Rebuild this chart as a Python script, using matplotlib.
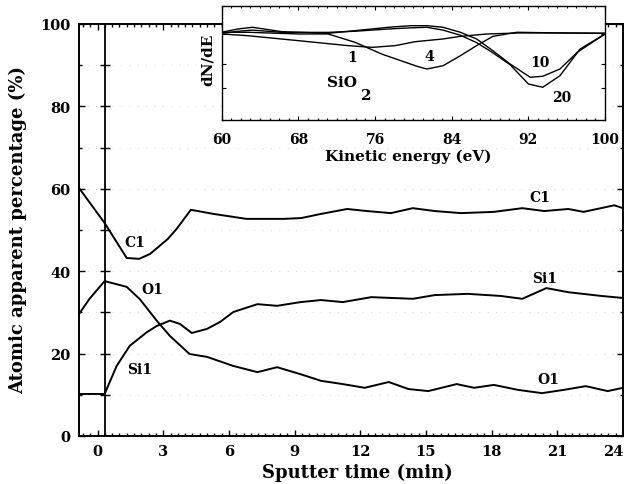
import numpy as np
import matplotlib
matplotlib.use("Agg")
import matplotlib.pyplot as plt
from matplotlib.ticker import MultipleLocator

# ---- main plot data: sputter time (min) vs atomic apparent percentage (%) ----
c1_t = [-0.85, 0.32, 1.33, 1.9, 2.4, 3.2, 3.6, 4.26, 5.3, 6.8, 8.5, 9.3, 10.2, 11.4,
        12.3, 13.4, 14.4, 15.4, 16.6, 18.1, 19.4, 20.4, 21.5, 22.2, 23.6, 24.0]
c1_v = [60.2, 51.7, 43.2, 43.0, 44.2, 47.8, 50.2, 54.9, 53.9, 52.7, 52.7, 52.9, 53.9, 55.1,
        54.6, 54.1, 55.3, 54.6, 54.1, 54.4, 55.3, 54.6, 55.1, 54.4, 56.0, 55.3]

o1_t = [-0.85, -0.37, 0.32, 1.33, 1.93, 2.7, 3.3, 4.2, 5.0, 6.2, 7.3, 8.2, 9.27, 10.2,
        11.2, 12.2, 13.3, 14.2, 15.1, 16.4, 17.2, 18.1, 19.2, 20.3, 21.3, 22.3, 23.3, 24.0]
o1_v = [29.6, 33.3, 37.6, 36.2, 33.2, 28.0, 24.3, 19.9, 19.2, 17.0, 15.5, 16.7, 15.0, 13.4,
        12.6, 11.7, 13.1, 11.4, 10.9, 12.6, 11.7, 12.4, 11.2, 10.4, 11.2, 12.1, 10.9, 11.7]

si1_t = [-0.85, 0.32, 0.87, 1.47, 2.25, 2.7, 3.3, 3.76, 4.3, 5.0, 5.6, 6.2, 7.3, 8.2, 9.27,
         10.2, 11.2, 12.5, 14.4, 15.4, 16.9, 18.4, 19.4, 20.5, 21.5, 23.0, 24.0]
si1_v = [10.2, 10.2, 17.0, 21.9, 25.2, 26.7, 28.0, 27.2, 25.0, 26.0, 27.7, 30.1, 32.0, 31.6, 32.5,
         33.0, 32.5, 33.7, 33.3, 34.2, 34.5, 34.0, 33.3, 35.9, 34.9, 34.0, 33.5]

t_start = 0.32  # vertical marker line (start of sputtering)
time_ticks = [0, 3, 6, 9, 12, 15, 18, 21, 24]

# ---- inset data: Si LVV spectra, kinetic energy (eV) vs dN/dE (arb.) ----
s1_e = [60, 62.7, 68.0, 73.2, 75.7, 78.1, 80.2, 83.1, 84.9, 87.7, 91.1, 95.3, 100]
s1_v = [7.56, 7.41, 6.97, 6.53, 6.38, 6.53, 6.88, 7.12, 7.35, 7.56, 7.65, 7.65, 7.62]

s4_e = [60, 62.7, 68.0, 71.1, 73.9, 76.7, 80.2, 81.4, 83.1, 84.9, 86.6, 88.3, 90.8, 95.3, 100]
s4_v = [7.71, 7.71, 7.56, 7.56, 6.83, 5.79, 4.76, 4.47, 4.76, 5.64, 6.53, 7.35, 7.71, 7.65, 7.62]

s10_e = [60, 61.7, 63.2, 66.3, 71.1, 73.9, 77.4, 79.7, 81.4, 83.1, 84.9, 86.6, 88.3, 90.1,
         92.2, 93.5, 95.3, 97.1, 100]
s10_v = [7.71, 8.0, 8.15, 7.76, 7.62, 7.85, 8.15, 8.29, 8.29, 8.15, 7.71, 7.12, 6.08, 4.91,
         3.74, 3.83, 4.47, 5.94, 7.56]

s20_e = [60, 61.7, 63.2, 66.3, 71.1, 73.9, 77.4, 79.7, 81.4, 83.1, 84.9, 86.6, 88.3, 90.1,
         92.0, 93.5, 95.3, 97.4, 100]
s20_v = [7.6, 7.8, 7.9, 7.7, 7.7, 7.8, 8.0, 8.1, 8.15, 7.9, 7.45, 6.8, 5.9, 4.85,
         3.15, 2.86, 3.88, 6.23, 7.56]

energy_ticks = [60, 68, 76, 84, 92, 100]

plt.rcParams['font.family'] = ['DejaVu Serif']
plt.rcParams['font.weight'] = 'bold'

W, H = 624, 485
fig = plt.figure(figsize=(W / 100, H / 100), dpi=100)

# main axes (pixel box: x 79..623, y 25..437)
ax = fig.add_axes([79 / W, (H - 437) / H, (623 - 79) / W, (437 - 25) / H])
lw = 1.4
ax.plot(c1_t, c1_v, color='black', lw=lw)
ax.plot(o1_t, o1_v, color='black', lw=lw)
ax.plot(si1_t, si1_v, color='black', lw=lw)

ax.axvline(t_start, color='black', lw=1.3)
ax.plot([t_start] * 9, np.arange(10, 100, 10), ls='none', marker='_', ms=7,
        mew=1.0, color='black')

ax.set_xlim(-0.85, 24.0)
ax.set_ylim(0, 100)
ax.set_xticks(time_ticks)
ax.xaxis.set_minor_locator(MultipleLocator(1 / 3))
ax.yaxis.set_major_locator(MultipleLocator(20))
ax.yaxis.set_minor_locator(MultipleLocator(10))
ax.tick_params(which='both', direction='in', top=True, right=True, width=1.0)
ax.tick_params(which='major', length=4, labelsize=10.5, pad=6)
ax.tick_params(which='minor', length=2.5)
for lab in ax.get_xticklabels() + ax.get_yticklabels():
    lab.set_fontweight('bold')
# last time label sits against the right edge, as in the original scan
ax.get_xticklabels()[-1].set_horizontalalignment('right')
for sp in ax.spines.values():
    sp.set_linewidth(1.4)

# faint dotted grid as in the scanned original
for v in range(10, 100, 10):
    ax.axhline(v, color='#c8c8c8', lw=0.6, ls=(0, (1, 9)), zorder=0)

lab_kw = dict(fontsize=10, fontweight='bold', ha='center', va='center')
ax.text(1.7, 47.0, 'C1', **lab_kw)
ax.text(2.5, 35.7, 'O1', **lab_kw)
ax.text(1.93, 16.3, 'Si1', **lab_kw)
ax.text(20.2, 58.0, 'C1', **lab_kw)
ax.text(20.4, 38.3, 'Si1', **lab_kw)
ax.text(20.6, 13.8, 'O1', **lab_kw)

fig.text(18 / W, 1 - 230 / H, 'Atomic apparent percentage (%)', rotation=90,
         ha='center', va='center', fontsize=13, fontweight='bold')
fig.text(357 / W, 1 - 473 / H, 'Sputter time (min)', ha='center', va='center',
         fontsize=13, fontweight='bold')

# inset axes (pixel box: x 222..605, y 7..121)
ins = fig.add_axes([221.7 / W, (H - 120.7) / H, (605 - 221.7) / W, (120.7 - 7.3) / H])
ins.set_facecolor('white')
ins.plot(s1_e, s1_v, color='black', lw=1.0)
ins.plot(s4_e, s4_v, color='black', lw=1.0)
ins.plot(s10_e, s10_v, color='black', lw=1.0)
ins.plot(s20_e, s20_v, color='black', lw=1.0)
ins.set_xlim(60, 100)
ins.set_ylim(0, 10)
ins.set_xticks(energy_ticks)
ins.xaxis.set_minor_locator(MultipleLocator(1))
ins.set_yticks([2.8, 4.9, 7.6])
ins.set_yticklabels([])
ins.tick_params(which='both', direction='in', top=True, right=True, width=0.8)
ins.tick_params(which='major', length=3, labelsize=10, pad=9)
ins.tick_params(which='minor', length=1.5)
for lab in ins.get_xticklabels():
    lab.set_fontweight('bold')
for sp in ins.spines.values():
    sp.set_linewidth(1.0)

ins_kw = dict(fontsize=10, fontweight='bold', ha='center', va='center')
ins.text(73.6, 5.5, '1', **ins_kw)
ins.text(81.7, 5.6, '4', **ins_kw)
ins.text(93.2, 5.1, '10', **ins_kw)
ins.text(95.5, 2.0, '20', **ins_kw)
ins.text(72.6, 3.3, 'SiO', fontsize=11, fontweight='bold', ha='center', va='center')
ins.text(75.1, 2.2, '2', fontsize=11, fontweight='bold', ha='center', va='center')

fig.text(208 / W, 1 - 60 / H, 'dN/dE', rotation=90, ha='center', va='center',
         fontsize=11, fontweight='bold')
fig.text(408 / W, 1 - 157 / H, 'Kinetic energy (eV)', ha='center', va='center',
         fontsize=11, fontweight='bold')

fig.savefig('out.png', dpi=100)
